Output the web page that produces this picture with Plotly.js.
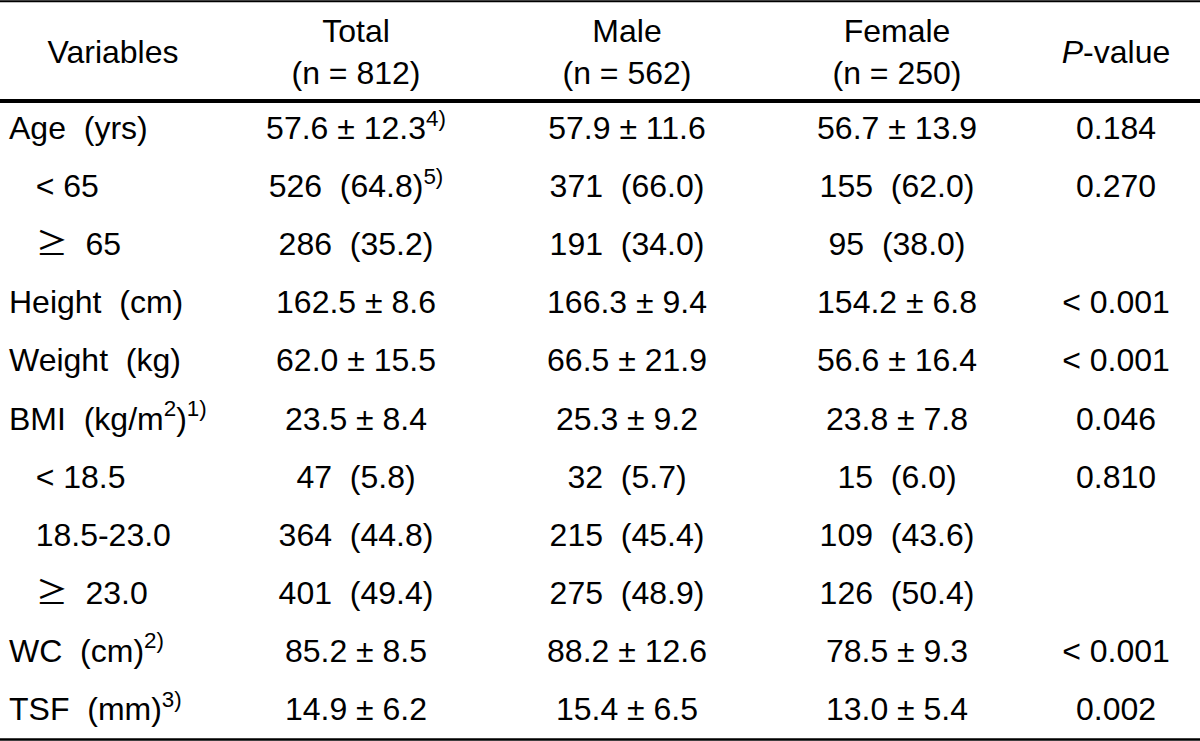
<!DOCTYPE html>
<html>
<head>
<meta charset="utf-8">
<script src="https://cdn.plot.ly/plotly-3.0.1.min.js"></script>
<style>html,body{margin:0;padding:0;background:#fff;}#chart{width:1200px;height:741px;}</style>
</head>
<body>
<div id="chart"></div>
<script>
// ---- table content ----
const headers = ["Variables", "Total<br>(n = 812)", "Male<br>(n = 562)", "Female<br>(n = 250)", "<i>P</i>-value"];
const variables = ["Age  (yrs)", "   < 65", "   ≥  65", "Height  (cm)", "Weight  (kg)",
  "BMI  (kg/m<sup>2</sup>)<sup>1)</sup>", "   < 18.5", "   18.5-23.0", "   ≥  23.0",
  "WC  (cm)<sup>2)</sup>", "TSF  (mm)<sup>3)</sup>"];
const total = ["57.6 ± 12.3<sup>4)</sup>", "526  (64.8)<sup>5)</sup>", "286  (35.2)", "162.5 ± 8.6", "62.0 ± 15.5",
  "23.5 ± 8.4", "47  (5.8)", "364  (44.8)", "401  (49.4)", "85.2 ± 8.5", "14.9 ± 6.2"];
const male = ["57.9 ± 11.6", "371  (66.0)", "191  (34.0)", "166.3 ± 9.4", "66.5 ± 21.9",
  "25.3 ± 9.2", "32  (5.7)", "215  (45.4)", "275  (48.9)", "88.2 ± 12.6", "15.4 ± 6.5"];
const female = ["56.7 ± 13.9", "155  (62.0)", "95  (38.0)", "154.2 ± 6.8", "56.6 ± 16.4",
  "23.8 ± 7.8", "15  (6.0)", "109  (43.6)", "126  (50.4)", "78.5 ± 9.3", "13.0 ± 5.4"];
const pvalue = ["0.184", "0.270", "", "< 0.001", "< 0.001", "0.046", "0.810", "", "", "< 0.001", "0.002"];

// ---- layout constants ----
const colX = [9, 356, 627, 897, 1116];
const headerRow = -1.31;
const FONT = {family: "Liberation Sans, Arial, sans-serif", size: 32, color: "#000"};
const fmt = s => s.replace(/ /g, "\u00a0")
  .replace("≥", "<span style='font-family:Noto Sans CJK KR'>≥</span>");

const columns = [variables, total, male, female, pvalue];

const traces = columns.map((col, c) => {
  const idx = col.map((v, i) => i).filter(i => col[i] !== "");
  return {
    type: "scatter", mode: "text",
    x: idx.map(() => colX[c]), y: idx,
    text: idx.map(i => fmt(col[i])),
    textposition: c === 0 ? "middle right" : "middle center",
    textfont: FONT, hoverinfo: "skip", showlegend: false, cliponaxis: false
  };
});
traces.push({
  type: "scatter", mode: "text",
  x: colX.map((x, c) => c === 0 ? 113 : x), y: headers.map(() => headerRow),
  text: headers.map(fmt), textposition: "middle center",
  textfont: FONT, hoverinfo: "skip", showlegend: false, cliponaxis: false
});

const layout = {
  width: 1200, height: 741,
  margin: {l: 0, r: 0, t: 0, b: 0},
  paper_bgcolor: "#fff", plot_bgcolor: "#fff",
  xaxis: {range: [0, 1200], visible: false, fixedrange: true},
  yaxis: {range: [10.499, -2.2547], visible: false, fixedrange: true},
  showlegend: false, hovermode: false,
  shapes: [
    {type: "line", xref: "paper", yref: "paper", x0: 0, x1: 1, y0: 1 - 1.3/741, y1: 1 - 1.3/741, line: {color: "#000", width: 2}},
    {type: "line", xref: "paper", yref: "paper", x0: 0, x1: 1, y0: 1 - 101/741, y1: 1 - 101/741, line: {color: "#000", width: 4}},
    {type: "line", xref: "paper", yref: "paper", x0: 0, x1: 1, y0: 1.5/741, y1: 1.5/741, line: {color: "#000", width: 2.5}}
  ]
};

Plotly.newPlot("chart", traces, layout, {displayModeBar: false, staticPlot: true});
</script>
</body>
</html>
